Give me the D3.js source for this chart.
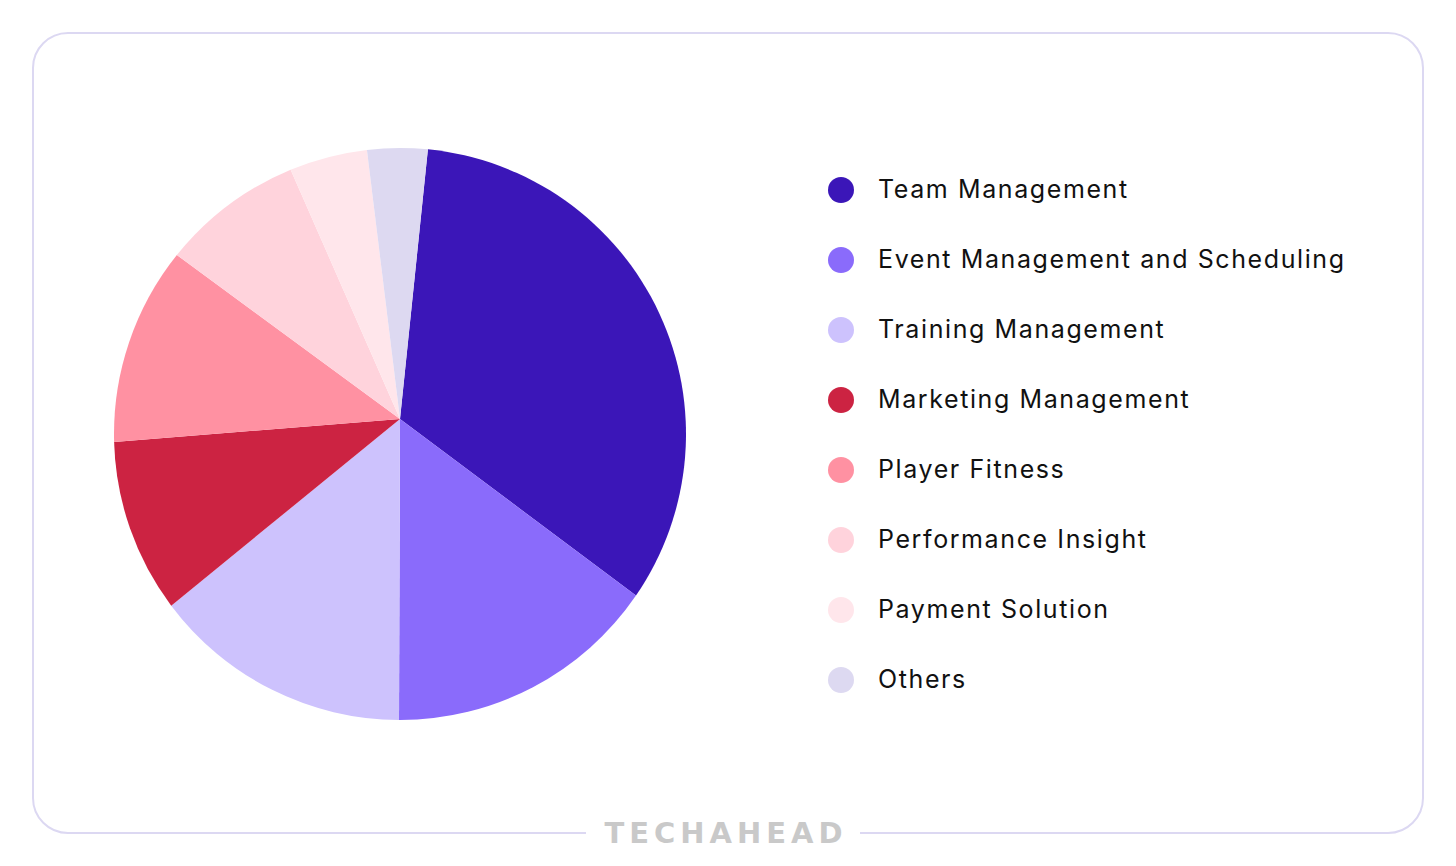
<!DOCTYPE html>
<meta charset="utf-8">
<style>
body { margin: 0; background: #fff; }
.legend text {
  font: 400 25px Inter, "Noto Sans", sans-serif;
  letter-spacing: 1.6px;
  fill: #111;
}
.logo {
  font: 700 29px "DejaVu Sans", sans-serif;
  fill: #c9c9c9;
  letter-spacing: 5px;
}
</style>
<svg width="1456" height="866"></svg>
<script src="https://d3js.org/d3.v7.min.js"></script>
<script>
var categories = ["Team Management", "Event Management and Scheduling", "Training Management",
                  "Marketing Management", "Player Fitness", "Performance Insight",
                  "Payment Solution", "Others"];
var shares = [33.0, 15.5, 14.7, 9.8, 11.2, 8.0, 4.4, 3.4];
var colors = ["#3b16b8", "#8a6bfb", "#cdc2fd", "#cc2342", "#ff91a2", "#ffd3dc", "#ffe6eb", "#ddd9f1"];

var svg = d3.select("svg");

// card frame, bottom edge broken by the logo
var frame = {x: 33, y: 33, w: 1390, h: 800, r: 35};
svg.append("rect")
    .attr("x", frame.x).attr("y", frame.y)
    .attr("width", frame.w).attr("height", frame.h)
    .attr("rx", frame.r)
    .attr("fill", "none")
    .attr("stroke", "#dcd8f2")
    .attr("stroke-width", 2);
svg.append("rect")
    .attr("x", 586).attr("y", frame.y + frame.h - 4)
    .attr("width", 274).attr("height", 8)
    .attr("fill", "#fff");
svg.append("text")
    .attr("class", "logo")
    .attr("x", 726).attr("y", 843)
    .attr("text-anchor", "middle")
    .text("TECHAHEAD");

// pie: outer circle centre and the point where the slices meet
var cx = 400, cy = 434, r = 286;
var apex = [400, 419];
var offset = 5.6 * Math.PI / 180;

var pie = d3.pie().sort(null)
    .startAngle(offset)
    .endAngle(offset + 2 * Math.PI);

var color = d3.scaleOrdinal().domain(categories).range(colors);

function slice(d) {
  var p = d3.path();
  p.moveTo(apex[0], apex[1]);
  p.arc(cx, cy, r, d.startAngle - Math.PI / 2, d.endAngle - Math.PI / 2);
  p.closePath();
  return p.toString();
}

svg.append("g")
  .selectAll("path")
  .data(pie(shares))
  .enter().append("path")
    .attr("d", slice)
    .attr("fill", function(d, i) { return color(categories[i]); });

// legend
var ly = d3.scaleBand().domain(categories).range([155, 715]);
var leg = svg.append("g").attr("class", "legend")
  .selectAll("g")
  .data(categories)
  .enter().append("g")
    .attr("transform", function(d) { return "translate(841," + (ly(d) + ly.bandwidth() / 2) + ")"; });

leg.append("circle")
    .attr("r", 13)
    .attr("fill", function(d) { return color(d); });

leg.append("text")
    .attr("x", 37)
    .attr("y", 8)
    .text(function(d) { return d; });
</script>
